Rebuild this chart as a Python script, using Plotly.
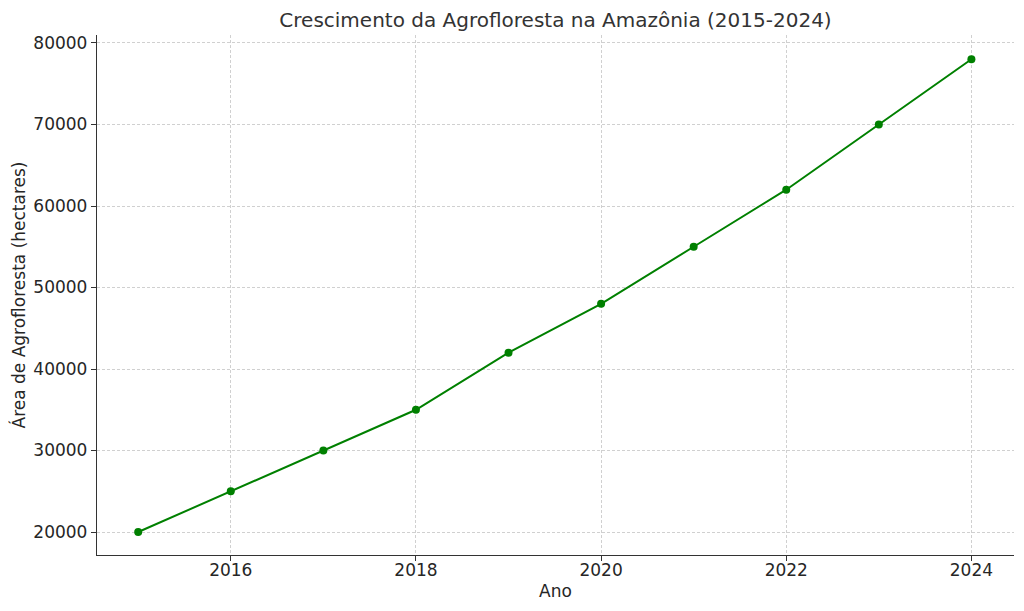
import plotly.graph_objects as go

years = [2015, 2016, 2017, 2018, 2019, 2020, 2021, 2022, 2023, 2024]
area = [20000, 25000, 30000, 35000, 42000, 48000, 55000, 62000, 70000, 78000]
x_ticks = [2016, 2018, 2020, 2022, 2024]
y_ticks = [20000, 30000, 40000, 50000, 60000, 70000, 80000]

fig = go.Figure()
fig.add_trace(go.Scatter(
    x=years, y=area, mode="lines+markers",
    line=dict(color="#008000", width=2),
    marker=dict(color="#008000", size=8),
))

font = "DejaVu Sans"
txt = "#262626"
fig.update_layout(
    width=1016, height=603,
    paper_bgcolor="white", plot_bgcolor="white",
    margin=dict(l=89, r=10, t=27, b=56),
    showlegend=False,
    title=dict(text="Crescimento da Agrofloresta na Amazônia (2015-2024)",
               x=0.5, xanchor="center", xref="paper", y=0.980, yanchor="middle",
               font=dict(family=font, size=20, color="#333333")),
    font=dict(family=font, color=txt),
)
fig.update_xaxes(
    range=[2014.555, 2024.46], tickvals=x_ticks, ticktext=[str(t) for t in x_ticks],
    showgrid=True, gridcolor="#d0d0d0", griddash="3px,2px", gridwidth=1,
    showline=True, linecolor="#333333", linewidth=1.3, mirror=False,
    ticks="outside", ticklen=5, tickcolor="#333333", ticklabelstandoff=-6,
    tickfont=dict(family=font, size=17, color=txt),
    title=dict(text="Ano", font=dict(family=font, size=17, color=txt), standoff=6),
    zeroline=False, automargin=False,
)
fig.update_yaxes(
    range=[17180, 80980], tickvals=y_ticks, ticktext=[str(t) for t in y_ticks],
    showgrid=True, gridcolor="#d0d0d0", griddash="3px,2px", gridwidth=1,
    showline=True, linecolor="#333333", linewidth=1.3, mirror=False,
    ticks="outside", ticklen=5, tickcolor="#333333",
    tickfont=dict(family=font, size=17, color=txt),
    title=dict(text="Área de Agrofloresta (hectares)", font=dict(family=font, size=17, color=txt), standoff=5),
    zeroline=False, automargin=False,
)
fig.write_html("out.html")
